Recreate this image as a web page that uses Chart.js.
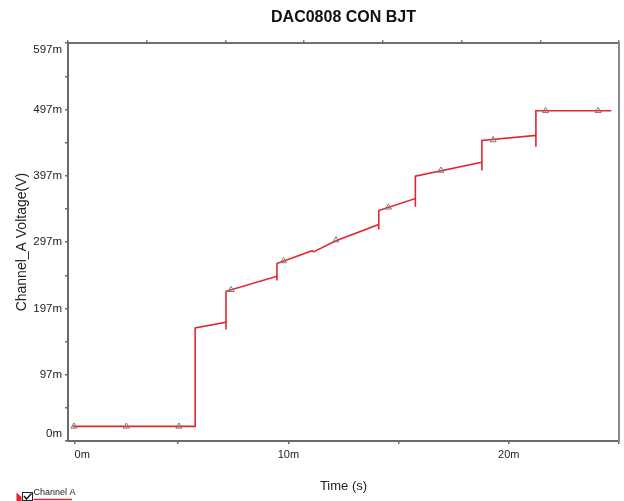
<!DOCTYPE html>
<html><head><meta charset="utf-8">
<script src="https://cdn.jsdelivr.net/npm/chart.js@4/dist/chart.umd.min.js"></script>
<style>html,body{margin:0;padding:0;background:#fff;overflow:hidden}#wrap{width:624px;height:501px;position:relative}</style>
</head><body><div id="wrap"><canvas id="c" width="624" height="501"></canvas></div>
<script>
// Trace (time in ms, voltage in mV)
const traceTime    = [0.21, 5.77, 5.77, 7.17, 7.17, 7.17, 9.48, 9.48, 9.48, 11.08, 11.14, 12.16, 14.10, 14.10, 14.10, 15.76, 15.76, 15.76, 18.78, 18.78, 18.78, 21.23, 21.23, 21.23, 24.65];
const traceVoltage = [19, 19, 167.6, 176, 165, 222.8, 245.5, 239, 264.6, 284, 282.3, 299, 323.5, 316, 344.6, 362.7, 350.2, 396.4, 417.5, 405, 450.3, 457.8, 440.8, 495.1, 495.1];
// Triangle markers
const markerTime    = [0.27, 2.65, 5.03, 7.40, 9.78, 12.16, 14.54, 16.92, 19.29, 21.67, 24.05];
const markerVoltage = [19, 19, 19, 225, 268.5, 300, 349.5, 405, 451, 495, 495];
// Axes ticks
const yTickValues = [-3, 47, 97, 147, 197, 247, 297, 347, 397, 447, 497, 547, 597];
const yTickLabels = ['0m', '', '97m', '', '197m', '', '297m', '', '397m', '', '497m', '', '597m'];
const xTickValues = [0.3, 5, 10, 15, 20, 25];
const xTickLabels = ['0m', '', '10m', '', '20m', ''];
const topTickValues = [0, 1, 2, 3, 4, 5, 6, 7];

const FONT = 'Arial, "Liberation Sans", sans-serif';
const RED = '#e3262e';
const AXIS = '#6a6a6a';

const legendPlugin = {
  id: 'channelLegend',
  afterDraw(chart) {
    const ctx = chart.ctx;
    ctx.save();
    ctx.fillStyle = RED;
    ctx.beginPath();
    ctx.moveTo(16.5, 492.5); ctx.lineTo(21.5, 497); ctx.lineTo(21.5, 501); ctx.lineTo(16.5, 501);
    ctx.closePath(); ctx.fill();
    ctx.strokeStyle = '#222'; ctx.lineWidth = 1;
    ctx.strokeRect(22.5, 492.5, 10, 8);
    ctx.beginPath();
    ctx.lineWidth = 1.6;
    ctx.moveTo(24, 496); ctx.lineTo(26.5, 499); ctx.lineTo(31.5, 493.5);
    ctx.stroke();
    ctx.fillStyle = '#222';
    ctx.font = '9px ' + FONT;
    ctx.textBaseline = 'alphabetic';
    ctx.textAlign = 'left';
    ctx.fillText('Channel A', 33.5, 494.5);
    ctx.strokeStyle = RED; ctx.lineWidth = 1.5;
    ctx.beginPath(); ctx.moveTo(33.5, 499.5); ctx.lineTo(72, 499.5); ctx.stroke();
    ctx.restore();
  }
};

new Chart(document.getElementById('c').getContext('2d'), {
  type: 'line',
  data: {
    datasets: [
      {
        label: 'Channel A',
        data: traceTime.map((t, i) => ({ x: t, y: traceVoltage[i] })),
        borderColor: RED, borderWidth: 1.6, pointRadius: 0, tension: 0, fill: false, order: 2
      },
      {
        label: 'Channel A markers',
        data: markerTime.map((t, i) => ({ x: t, y: markerVoltage[i] })),
        showLine: false, pointStyle: 'triangle', pointRadius: 3.5,
        pointBorderColor: '#7a7a7a', pointBackgroundColor: 'rgba(255,255,255,0)', pointBorderWidth: 1, order: 1
      }
    ]
  },
  options: {
    responsive: false, animation: false, devicePixelRatio: 1,
    layout: { padding: { left: 0, right: 3, top: 0, bottom: 0 } },
    plugins: {
      legend: { display: false },
      tooltip: { enabled: false },
      title: {
        display: true, text: 'DAC0808 CON BJT', fullSize: false, color: '#111',
        font: { family: FONT, size: 16, weight: 'bold', lineHeight: 1.2 },
        padding: { top: 8, bottom: 12 }
      }
    },
    scales: {
      x: {
        type: 'linear', position: 'bottom', min: 0, max: 25,
        afterBuildTicks: s => { s.ticks = xTickValues.map(v => ({ value: v })); },
        afterFit: s => { s.height = 60; },
        ticks: { callback: (v, i) => xTickLabels[i], align: 'inner', autoSkip: false, maxRotation: 0, padding: 4, color: '#222', font: { family: FONT, size: 11 } },
        grid: { display: true, drawOnChartArea: false, drawTicks: true, tickLength: 3, color: AXIS, lineWidth: 1.5 },
        border: { display: true, color: AXIS, width: 2 },
        title: { display: true, text: 'Time (s)', color: '#222', font: { family: FONT, size: 13 }, padding: { top: 0, bottom: 6.5 } }
      },
      xTop: {
        type: 'linear', position: 'top', min: 0, max: 7,
        afterBuildTicks: s => { s.ticks = topTickValues.map(v => ({ value: v })); },
        afterFit: s => { s.height = 4; },
        ticks: { display: false },
        grid: { display: true, drawOnChartArea: false, drawTicks: true, tickLength: 3, color: AXIS, lineWidth: 1.5 },
        border: { display: true, color: '#707070', width: 2 }
      },
      y: {
        type: 'linear', position: 'left', min: -3, max: 597,
        afterBuildTicks: s => { s.ticks = yTickValues.map(v => ({ value: v })); },
        afterFit: s => { s.width = 68; },
        ticks: {
          callback: (v, i) => {
            const l = yTickLabels[i];
            if (i === 0) return [l, ''];
            if (i === yTickLabels.length - 1) return ['', l];
            return l;
          },
          autoSkip: false, padding: 3, color: '#222', font: { family: FONT, size: 11.5 }
        },
        grid: { display: true, drawOnChartArea: false, drawTicks: true, tickLength: 3, color: AXIS, lineWidth: 1.5 },
        border: { display: true, color: AXIS, width: 2 },
        title: { display: true, text: 'Channel_A Voltage(V)', color: '#222', font: { family: FONT, size: 14 }, padding: { top: 14, bottom: 0 } }
      },
      yRight: {
        type: 'linear', position: 'right', min: -3, max: 597,
        afterFit: s => { s.width = 0; },
        ticks: { display: false },
        grid: { display: false },
        border: { display: true, color: '#8a8a8a', width: 2 }
      }
    }
  },
  plugins: [legendPlugin]
});
</script>
</body></html>
